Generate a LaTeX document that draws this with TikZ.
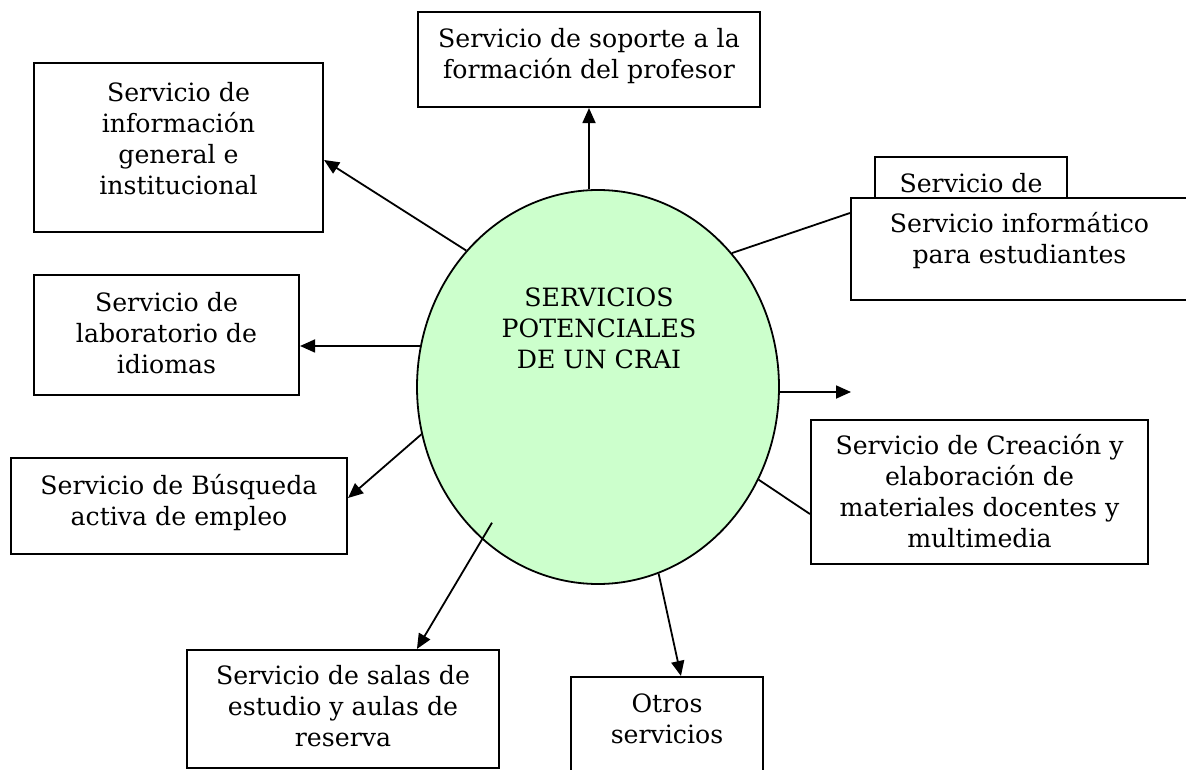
\documentclass[tikz,border=0pt]{standalone}
\usepackage{fontspec}
\setmainfont{DejaVu Serif}
\usetikzlibrary{arrows.meta,shapes.geometric,calc}
\definecolor{ellfill}{RGB}{204,255,204}
\newcommand{\tstrut}{\rule{0pt}{24pt}}
\begin{document}
\begin{tikzpicture}[x=1pt,y=-1pt,
  box/.style={draw, line width=2.1pt, rectangle, inner sep=0pt, fill=white},
  txt/.style={align=center, font=\fontsize{25.2}{31}\selectfont, inner sep=0pt, anchor=north},
  conn/.style={line width=1.8pt},
  arr/.style={conn, -{Triangle[length=15pt,width=13pt]}},
]
\useasboundingbox (0,0) rectangle (1186,770);

% central ellipse
\node[ellipse, draw, line width=1.8pt, fill=ellfill, minimum width=362pt, minimum height=394pt, inner sep=0pt] (ell) at (598,387) {};
\node[txt] (elltxt) at ($(ell.north)+(1,117-24)$) {\tstrut SERVICIOS\\POTENCIALES\\DE UN CRAI};

% boxes
\node[box, minimum width=342pt, minimum height=95pt] (soporte) at (589,59.5) {};
\node[txt] (soportetxt) at ($(soporte.north)+(0,36-24)$) {\tstrut Servicio de soporte a la\\formación del profesor};

\node[box, minimum width=289pt, minimum height=169pt] (info) at (178.5,147.5) {};
\node[txt] (infotxt) at ($(info.north)+(0,39-24)$) {\tstrut Servicio de\\información\\general e\\institucional};

\node[box, minimum width=265pt, minimum height=120pt] (idiomas) at (166.5,335) {};
\node[txt] (idiomastxt) at ($(idiomas.north)+(0,37-24)$) {\tstrut Servicio de\\laboratorio de\\idiomas};

\node[box, minimum width=336pt, minimum height=96pt] (busq) at (179,506) {};
\node[txt] (busqtxt) at ($(busq.north)+(0,37-24)$) {\tstrut Servicio de Búsqueda\\activa de empleo};

\node[box, minimum width=312pt, minimum height=118pt] (salas) at (343,709) {};
\node[txt] (salastxt) at ($(salas.north)+(0,35-24)$) {\tstrut Servicio de salas de\\estudio y aulas de\\reserva};

\node[box, minimum width=192pt, minimum height=123pt] (otros) at (667,738.5) {};
\node[txt] (otrostxt) at ($(otros.north)+(0,36-24)$) {\tstrut Otros\\servicios};

\node[box, minimum width=337pt, minimum height=144pt] (creacion) at (979.5,492) {};
\node[txt] (creaciontxt) at ($(creacion.north)+(0,35-24)$) {\tstrut Servicio de Creación y\\elaboración de\\materiales docentes y\\multimedia};

\node[box, minimum width=192pt, minimum height=103pt] (back) at (971,208.5) {};
\node[txt] (backtxt) at ($(back.north)+(0,36-24)$) {\tstrut Servicio de};

\node[box, minimum width=337pt, minimum height=102pt] (infor) at (1019.5,249) {};
\node[txt] (infortxt) at ($(infor.north)+(0,35-24)$) {\tstrut Servicio informático\\para estudiantes};

% connectors
\coordinate (rtip) at (851,392);
\draw[arr] (ell.north -| soporte.south) -- (soporte.south);
\draw[arr] (ell.134.6) -- ($(info.east)+(0,12.5)$);
\draw[arr] (ell.167) -- ($(idiomas.east)+(0,11)$);
\draw[arr] (ell.195.1) -- ($(busq.east)+(0,-8)$);
\draw[arr] ($(ell.center)!0.9!(ell.232.8)$) -- ($(salas.north west)+(231,0)$);
\draw[arr] (ell.-72.2) -- ($(otros.north west)+(111,0)$);
\draw[conn] (ell.-30.9) -- ($(creacion.west)+(0,22)$);
\draw[arr] (rtip -| ell.east) -- (rtip);
\draw[conn] (ell.45.2) -- ($(infor.west)+(0,-36)$);
\end{tikzpicture}
\end{document}
